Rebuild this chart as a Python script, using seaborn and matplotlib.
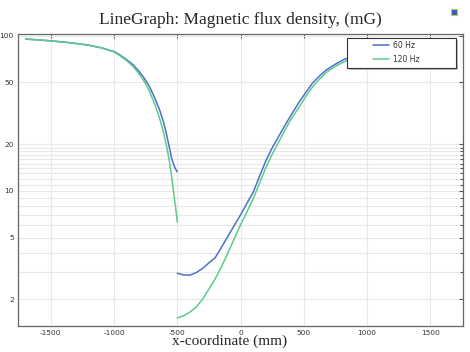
import numpy as np
import pandas as pd
import matplotlib
matplotlib.use('Agg')
import matplotlib.pyplot as plt
import seaborn as sns
from matplotlib.ticker import FixedLocator, FixedFormatter, NullFormatter
from matplotlib.patches import Rectangle

# Data (x in mm, B in mG)
x_left = [-1700, -1600, -1500, -1400, -1300, -1200, -1100, -1000, -950, -900, -850, -800,
          -760, -720, -680, -640, -610, -587, -565, -548, -530, -515, -500]
b60_left = [95, 94, 92.5, 91, 89, 86.8, 83.5, 79, 74.8, 70, 65, 58.6,
            53, 47, 40, 33.3, 28, 23.5, 19.5, 16.6, 14.9, 13.9, 13.3]
b120_left = [95, 94, 92.5, 91, 89, 86.8, 83.5, 78.5, 74, 69, 63.5, 56.5,
             50.5, 43.8, 36.5, 29.4, 24, 19.8, 16, 13, 9.9, 8.0, 6.3]

x_right = [-500, -450, -400, -350, -300, -250, -200, -150, -100, -50, 0, 50, 100, 150, 200,
           250, 300, 350, 400, 466, 520, 572, 625, 677, 750, 822, 900, 1000, 1100, 1200,
           1300, 1450, 1600, 1700]
b60_right = [2.95, 2.88, 2.87, 2.98, 3.17, 3.44, 3.72, 4.35, 5.09, 5.98, 7.0, 8.3, 9.8, 12.4, 15.6,
             18.9, 22.3, 26.3, 30.8, 37.6, 43.5, 49.8, 55, 60, 65.5, 70.5, 74, 78, 81, 84,
             86.5, 90, 92.5, 94]
b120_right = [1.52, 1.57, 1.66, 1.79, 2.01, 2.33, 2.72, 3.25, 3.98, 4.91, 6.05, 7.3, 8.9, 11.2, 14.1,
              17.2, 20.5, 24.5, 29, 34.9, 41, 47, 52.5, 57.8, 63.5, 68, 72.5, 77, 80.5, 83.5,
              86, 89.5, 92.5, 94]

freqs = ['60 Hz', '120 Hz']
colors = {'60 Hz': '#4f6fc8', '120 Hz': '#5ccb8c'}

rows = []
for f, left, right in [('60 Hz', b60_left, b60_right), ('120 Hz', b120_left, b120_right)]:
    for x, b in zip(x_left, left):
        rows.append((x, b, f, f + ' L'))
    for x, b in zip(x_right, right):
        rows.append((x, b, f, f + ' R'))
df = pd.DataFrame(rows, columns=['x', 'B', 'Frequency', 'segment'])

sns.set_style('white')
plt.rcParams['axes.unicode_minus'] = False

fig = plt.figure(figsize=(4.7, 3.52), dpi=100)
ax = fig.add_axes([18 / 470, 1 - 326 / 352, 445 / 470, 292 / 352])

sns.lineplot(data=df, x='x', y='B', hue='Frequency', hue_order=freqs, palette=colors,
             units='segment', estimator=None, sort=False, lw=1.1, legend=False, ax=ax)

ax.set_yscale('log')
ax.set_xlim(-1760, 1760)
ax.set_ylim(1.35, 102.5)

ax.xaxis.set_major_locator(FixedLocator([-1500, -1000, -500, 0, 500, 1000, 1500]))
ax.yaxis.set_major_locator(FixedLocator([2, 5, 10, 20, 50, 100]))
ax.yaxis.set_major_formatter(FixedFormatter(['2', '5', '10', '20', '50', '100']))
ax.yaxis.set_minor_locator(FixedLocator([3, 4, 6, 7, 8, 9] + list(range(11, 20))))
ax.yaxis.set_minor_formatter(NullFormatter())

ax.grid(True, which='major', color='#e8e8e8', lw=0.8)
ax.grid(True, which='minor', axis='y', color='#e8e8e8', lw=0.8)
ax.tick_params(which='both', direction='in', top=True, right=True, colors='#555555',
               labelcolor='#333333', labelsize=5.3, width=0.8)
ax.tick_params(which='major', length=3, pad=3)
ax.tick_params(which='minor', length=2.5)
for s in ax.spines.values():
    s.set_color('#666666')
    s.set_linewidth(0.9)

ax.set_title('LineGraph: Magnetic flux density, (mG)', fontfamily='Liberation Serif',
             fontsize=12.5, pad=7)
ax.set_xlabel('x-coordinate (mm)', fontfamily='Liberation Serif', fontsize=11)
ax.xaxis.set_label_coords(0.475, -0.03)
ax.set_ylabel('')

# legend box (COMSOL style)
x0, y0 = (347 - 18) / 445, (326 - 68) / 292
w, h = (456 - 347) / 445, 30 / 292
ax.add_patch(Rectangle((x0 + 0.004, y0 - 0.008), w, h, transform=ax.transAxes,
                       facecolor='#bbbbbb', edgecolor='none', zorder=4))
ax.add_patch(Rectangle((x0, y0), w, h, transform=ax.transAxes,
                       facecolor='white', edgecolor='#333333', lw=0.8, zorder=4.5))
handles = [plt.Line2D([], [], color=colors[f], lw=1.1) for f in freqs]
ax.legend(handles, freqs, loc='upper left', bbox_to_anchor=((373 - 18) / 445, (326 - 41) / 292),
          frameon=False, fontsize=5.5, borderpad=0, borderaxespad=0, handlelength=2.1,
          handletextpad=0.5, labelspacing=0.6, labelcolor='#333333')

fig.patches.append(Rectangle((451 / 470, 1 - 15 / 352), 6 / 470, 6 / 352, facecolor='#2f5fd0',
                             edgecolor='#d8c040', lw=0.8, transform=fig.transFigure))

fig.savefig('out.png', dpi=100, facecolor='white')
